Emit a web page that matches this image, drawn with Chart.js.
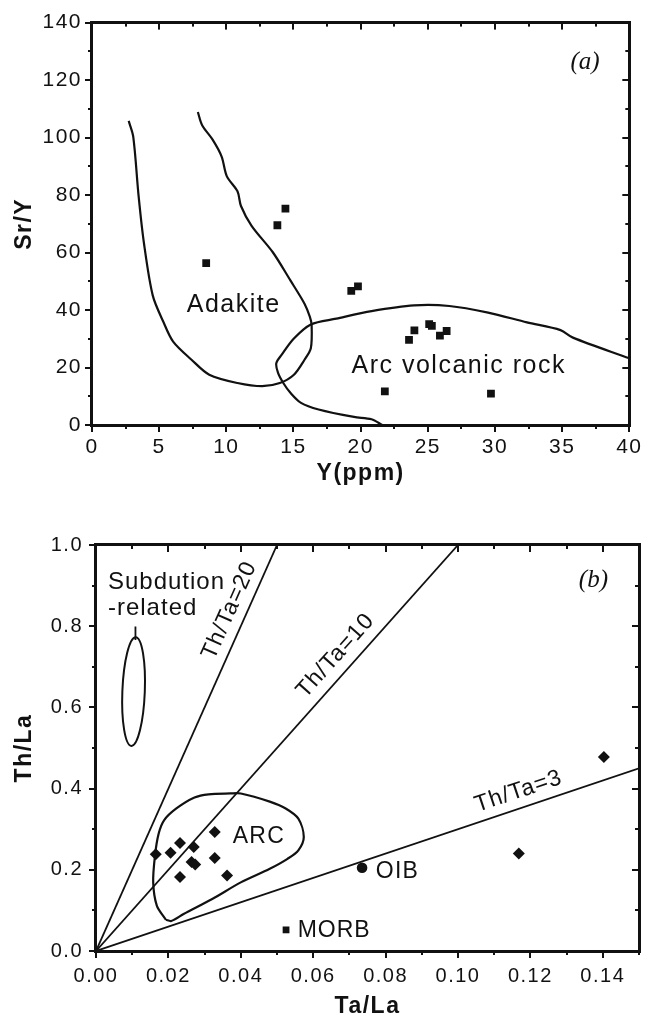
<!DOCTYPE html>
<html>
<head>
<meta charset="utf-8">
<script src="https://cdn.jsdelivr.net/npm/chart.js@4.4.1/dist/chart.umd.min.js"></script>
<style>
  body { margin: 0; background: #fff; }
  canvas { position: absolute; left: 0; }
  #chartA { top: 0; }
  #chartB { top: 500px; }
</style>
</head>
<body>
<canvas id="chartA" width="651" height="500"></canvas>
<canvas id="chartB" width="651" height="520"></canvas>
<script>
const INK = '#111111';
const FONT = '"Liberation Sans", Arial, sans-serif';

// (a) Sr/Y vs Y
const xTicksA = [0, 5, 10, 15, 20, 25, 30, 35, 40];
const yTicksA = [0, 20, 40, 60, 80, 100, 120, 140];
const sampleY = [8.5, 13.8, 14.4, 19.3, 19.8, 24.0, 23.6, 25.1, 25.3, 25.9, 26.4, 21.8, 29.7];
const sampleSrY = [56.3, 69.5, 75.3, 46.7, 48.2, 32.9, 29.6, 35.1, 34.5, 31.1, 32.7, 11.7, 10.9];
const adakiteX = [2.73, 3.07, 3.47, 3.86, 4.52, 5.31, 6.04, 7.41, 8.73, 10.83, 12.67, 13.98, 15.03, 15.82, 16.29, 16.35, 16.22, 15.82, 14.77, 13.46, 11.88, 11.09, 10.83, 10.04, 9.65, 8.99, 8.20, 7.88];
const adakiteY = [105.8, 100.3, 79.6, 63.5, 45.1, 35.9, 29.0, 22.7, 17.5, 14.6, 13.5, 14.6, 17.5, 22.7, 26.7, 34.7, 37.6, 42.2, 50.3, 60.1, 69.3, 76.2, 81.3, 86.5, 93.4, 99.2, 104.3, 108.9];
const arcX = [21.6, 20.81, 19.5, 16.87, 15.56, 14.77, 14.24, 13.85, 13.72, 14.11, 15.03, 16.29, 18.19, 20.81, 23.97, 26.6, 29.49, 32.38, 34.88, 35.8, 40.0];
const arcY = [0, 2.0, 2.8, 5.4, 7.7, 11.2, 14.6, 18.1, 21.5, 24.4, 30.1, 35.0, 37.0, 39.6, 41.6, 41.4, 39.1, 35.7, 33.0, 30.4, 23.2];

// (b) Th/La vs Ta/La
const xTicksB = [0, 0.02, 0.04, 0.06, 0.08, 0.10, 0.12, 0.14];
const yTicksB = [0, 0.2, 0.4, 0.6, 0.8, 1.0];
const rockTaLa = [0.0165, 0.0206, 0.0232, 0.0270, 0.0264, 0.0274, 0.0328, 0.0328, 0.0232, 0.0362, 0.1168, 0.1403];
const rockThLa = [0.238, 0.242, 0.266, 0.256, 0.219, 0.213, 0.293, 0.229, 0.182, 0.186, 0.240, 0.478];
const oib = [0.0735, 0.205];
const morb = [0.0525, 0.052];
const line20 = [[0, 0], [0.05, 1.0]];
const line10 = [[0, 0], [0.10, 1.0]];
const line3 = [[0, 0], [0.15, 0.45]];
const arcFieldX = [0.0193, 0.0208, 0.0242, 0.0321, 0.0400, 0.0480, 0.0529, 0.0559, 0.0574, 0.0559, 0.0524, 0.0480, 0.0400, 0.0371, 0.0311, 0.0272, 0.0222, 0.0188, 0.0173, 0.0163, 0.0158, 0.0168, 0.0193];
const arcFieldY = [0.077, 0.074, 0.091, 0.128, 0.169, 0.2025, 0.227, 0.248, 0.281, 0.326, 0.351, 0.368, 0.388, 0.388, 0.386, 0.378, 0.351, 0.322, 0.289, 0.2355, 0.169, 0.112, 0.077];
const leader = [[0.0109, 0.799], [0.0109, 0.766]];

const pts = (xs, ys) => xs.map((v, i) => ({ x: v, y: ys[i] }));
const pairs = arr => arr.map(p => ({ x: p[0], y: p[1] }));

// one plugin: box frame + ticks (out on bottom/left, in on top/right), ellipses, text notes
function decor(t, items, ellipses) {
  return {
    id: 'decor',
    beforeDraw(chart) { chart.ctx.letterSpacing = '1.5px'; },
    afterDatasetsDraw(chart) {
      const { ctx, chartArea: a, scales: { x, y } } = chart;
      ctx.save();
      ctx.fillStyle = INK;
      const nx = Math.round((x.max - x.min) / t.xMinor);
      for (let i = 0; i <= nx; i++) {
        const px = Math.round(x.getPixelForValue(x.min + i * t.xMinor));
        const len = i % t.xEvery === 0 ? 7 : 4;
        ctx.fillRect(px - 1, a.bottom, 2, len);
        ctx.fillRect(px - 1, a.top, 2, len);
      }
      const ny = Math.round((y.max - y.min) / t.yMinor);
      for (let i = 0; i <= ny; i++) {
        const py = Math.round(y.getPixelForValue(y.min + i * t.yMinor));
        const len = i % t.yEvery === 0 ? 7 : 4;
        ctx.fillRect(a.left - len, py - 1, len, 2);
        ctx.fillRect(a.right - len, py - 1, len, 2);
      }
      const L = Math.round(a.left), R = Math.round(a.right), T = Math.round(a.top), B = Math.round(a.bottom);
      ctx.fillRect(L - 2, T - 2, 3, B - T + 4);
      ctx.fillRect(R - 1, T - 2, 3, B - T + 4);
      ctx.fillRect(L - 2, T - 2, R - L + 4, 3);
      ctx.fillRect(L - 2, B - 1, R - L + 4, 3);
      ctx.restore();

      ellipses.forEach(e => {
        ctx.save();
        ctx.strokeStyle = INK;
        ctx.lineWidth = 2;
        const cx = x.getPixelForValue(e.x), cy = y.getPixelForValue(e.y);
        ctx.beginPath();
        ctx.ellipse(cx, cy, x.getPixelForValue(e.x + e.rx) - cx, cy - y.getPixelForValue(e.y + e.ry), e.rot, 0, Math.PI * 2);
        ctx.stroke();
        ctx.restore();
      });
      items.forEach(n => {
        ctx.save();
        ctx.font = n.font;
        ctx.fillStyle = INK;
        ctx.letterSpacing = n.spacing || '0px';
        ctx.textAlign = n.align || 'center';
        ctx.textBaseline = 'middle';
        ctx.translate(x.getPixelForValue(n.x), y.getPixelForValue(n.y));
        if (n.slope) {
          ctx.rotate(Math.atan2(y.getPixelForValue(n.slope) - y.getPixelForValue(0),
                                x.getPixelForValue(1) - x.getPixelForValue(0)));
        }
        ctx.fillText(n.text, 0, 0);
        ctx.restore();
      });
    }
  };
}

function axis(min, max, ticks, fmt, title, fitFn, titlePad, tickPad, fontSize) {
  return {
    type: 'linear', min: min, max: max,
    afterBuildTicks: s => { s.ticks = ticks.map(v => ({ value: v })); },
    afterFit: fitFn,
    grid: { display: false, drawTicks: false },
    border: { display: false },
    ticks: { color: INK, padding: tickPad, font: { family: FONT, size: fontSize }, callback: fmt },
    title: { display: true, text: title, color: INK, padding: titlePad,
             font: { family: FONT, size: 23, weight: 'bold', lineHeight: 1.2 } }
  };
}

const curve = data => ({ data: data, showLine: true, pointRadius: 0, borderColor: INK, borderWidth: 2.2, tension: 0.3 });
const straight = data => ({ data: data, showLine: true, pointRadius: 0, borderColor: INK, borderWidth: 1.8, tension: 0 });

const labelA = '25px ' + FONT;
new Chart(document.getElementById('chartA'), {
  type: 'scatter',
  data: {
    datasets: [
      curve(pts(adakiteX, adakiteY)),
      curve(pts(arcX, arcY)),
      { data: pts(sampleY, sampleSrY), pointStyle: 'rect', pointRadius: 5.5, backgroundColor: INK, borderWidth: 0 }
    ]
  },
  options: {
    responsive: false, animation: false,
    layout: { padding: { top: 22, right: 14, left: 0, bottom: 0 } },
    plugins: { legend: { display: false }, tooltip: { enabled: false } },
    scales: {
      x: axis(0, 40, xTicksA, v => v, 'Y(ppm)', s => { s.height = 75; }, { top: 0, bottom: 13 }, 10, 21),
      y: axis(0, 140, yTicksA, v => v, 'Sr/Y', s => { s.width = 92; }, { top: 11, bottom: 0 }, 10, 21)
    }
  },
  plugins: [decor({ xMinor: 2.5, xEvery: 2, yMinor: 10, yEvery: 2 }, [
    { text: 'Adakite', x: 10.55, y: 41.6, font: labelA, spacing: '1.5px' },
    { text: 'Arc volcanic rock', x: 27.3, y: 20.6, font: labelA, spacing: '1.5px' },
    { text: '(a)', x: 36.7, y: 126, font: 'italic 25px "Liberation Serif", serif' }
  ], [])]
});

const labelB = '23px ' + FONT;
new Chart(document.getElementById('chartB'), {
  type: 'scatter',
  data: {
    datasets: [
      straight(pairs(line20)),
      straight(pairs(line10)),
      straight(pairs(line3)),
      straight(pairs(leader)),
      curve(pts(arcFieldX, arcFieldY)),
      { data: pts(rockTaLa, rockThLa), pointStyle: 'rectRot', pointRadius: 6, backgroundColor: INK, borderWidth: 0 },
      { data: [{ x: oib[0], y: oib[1] }], pointStyle: 'circle', pointRadius: 5.3, backgroundColor: INK, borderWidth: 0 },
      { data: [{ x: morb[0], y: morb[1] }], pointStyle: 'rect', pointRadius: 4.8, backgroundColor: INK, borderWidth: 0 }
    ]
  },
  options: {
    responsive: false, animation: false,
    layout: { padding: { top: 45, right: 12, left: 0, bottom: 0 } },
    plugins: { legend: { display: false }, tooltip: { enabled: false } },
    scales: {
      x: axis(0, 0.15, xTicksB, v => v.toFixed(2), 'Ta/La', s => { s.height = 69; }, { top: 0, bottom: 0 }, 13, 20),
      y: axis(0, 1.0, yTicksB, v => v.toFixed(1), 'Th/La', s => { s.width = 96; }, { top: 11, bottom: 0 }, 13, 20)
    }
  },
  plugins: [decor({ xMinor: 0.01, xEvery: 2, yMinor: 0.1, yEvery: 2 }, [
    { text: 'Subdution', x: 0.0033, y: 0.909, align: 'left', font: '24px ' + FONT, spacing: '1px' },
    { text: '-related', x: 0.0033, y: 0.843, align: 'left', font: '24px ' + FONT, spacing: '1px' },
    { text: 'Th/Ta=20', x: 0.0369, y: 0.839, slope: 20, font: labelB, spacing: '1px' },
    { text: 'Th/Ta=10', x: 0.0662, y: 0.727, slope: 10, font: labelB, spacing: '1px' },
    { text: 'Th/Ta=3', x: 0.1167, y: 0.393, slope: 3, font: labelB, spacing: '1px' },
    { text: 'ARC', x: 0.045, y: 0.281, font: labelB, spacing: '1.2px' },
    { text: 'OIB', x: 0.0773, y: 0.196, align: 'left', font: labelB, spacing: '1.2px' },
    { text: 'MORB', x: 0.0557, y: 0.0496, align: 'left', font: labelB, spacing: '1px' },
    { text: '(b)', x: 0.1374, y: 0.913, font: 'italic 25px "Liberation Serif", serif' }
  ], [{ x: 0.01038, y: 0.639, rx: 0.0031, ry: 0.134, rot: 0.04 }])]
});
</script>
</body>
</html>
